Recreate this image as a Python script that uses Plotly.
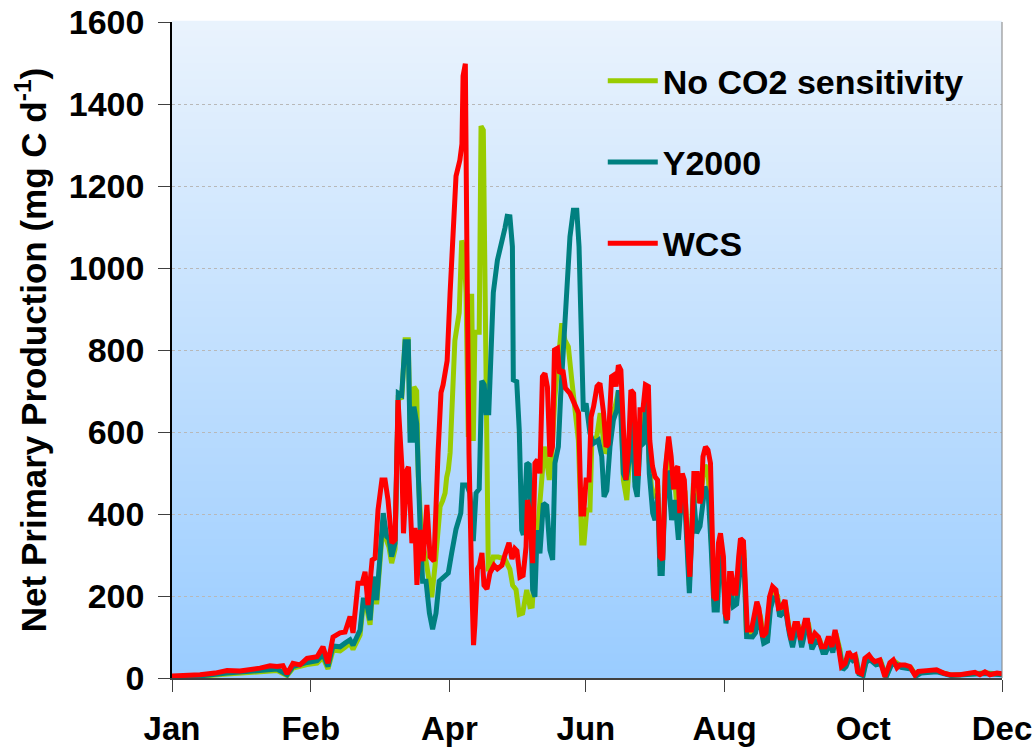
import plotly.graph_objects as go

# ---------------- data (day of year, NPP mg C d-1) ----------------
red_day = [0.0, 5.7, 12.3, 18.9, 24.2, 29.9, 34.3, 38.7, 43.1, 46.2, 48.8, 50.6, 53.2, 56.3, 59.4, 63.8, 66.4, 68.6,
           70.8, 73.9, 76.1, 78.3, 79.6, 81.8, 83.6, 84.9, 86.2, 88.0, 89.3, 90.6, 92.3, 93.7, 95.0, 96.7, 98.1, 99.4,
           101.1, 101.8, 103.3, 104.0, 105.5, 106.9, 107.7, 109.1, 110.4, 112.1, 113.5, 115.2, 117.0, 118.3, 119.2,
           121.0, 122.3, 123.6, 124.9, 126.6, 127.5, 128.0, 129.0, 129.7, 130.6, 131.7, 132.6, 133.2, 134.3, 135.2,
           136.3, 137.2, 138.5, 139.8, 141.6, 143.1, 145.1, 146.4, 148.2, 149.5, 150.8, 151.7, 153.0, 154.4, 155.7,
           156.3, 157.4, 158.6, 159.6, 160.7, 161.8, 162.9, 164.0, 165.1, 166.2, 167.3, 168.2, 169.5, 170.4, 171.9,
           173.0, 175.0, 177.2, 178.8, 179.9, 181.0, 182.1, 183.4, 184.3, 185.4, 186.9, 188.2, 189.8, 190.9, 191.8,
           193.3, 194.4, 195.3, 196.3, 197.4, 198.6, 199.6, 200.8, 201.8, 203.0, 204.3, 205.1, 205.8, 207.1, 208.2,
           209.5, 210.1, 211.3, 212.4, 213.5, 214.6, 215.8, 216.9, 218.4, 219.5, 220.6, 221.3, 222.4, 223.3, 224.4,
           225.3, 226.6, 227.7, 228.8, 229.5, 231.0, 232.1, 232.8, 233.5, 234.6, 235.7, 236.8, 237.4, 238.3, 239.4,
           240.3, 241.2, 242.5, 243.2, 244.3, 245.2, 246.0, 247.1, 248.0, 249.2, 250.0, 251.3, 252.4, 253.0, 254.8,
           255.9, 257.2, 258.1, 259.7, 261.2, 262.8, 264.1, 265.6, 266.7, 268.0, 269.6, 271.1, 272.4, 273.9, 275.1,
           276.4, 278.4, 279.5, 280.8, 282.7, 284.3, 285.6, 287.2, 288.7, 290.2, 291.6, 293.1, 294.4, 296.0, 297.5,
           299.0, 300.4, 301.5, 303.3, 304.7, 306.5, 307.8, 309.1, 311.3, 313.5, 315.7, 317.2, 318.8, 320.1, 322.3,
           324.5, 326.7, 328.2, 331.8, 336.2, 339.3, 342.1, 346.5, 350.9, 353.1, 355.3, 357.5, 359.7, 362.8, 365.0]
red_npp = [5, 6, 8, 12, 18, 17, 20, 24, 30, 28, 30, 10, 36, 32, 48, 52, 76, 36,
           100, 110, 112, 150, 110, 231, 231, 259, 178, 288, 292, 410, 483, 483, 434, 329, 337, 678,
           515, 353, 507, 515, 329, 366, 227, 361, 285, 422, 295, 285, 549, 696, 715,
           774, 940, 1107, 1224, 1263, 1302, 1468, 1498, 1038, 549, 256, 80, 130, 266, 275,
           305, 226, 217, 256, 275, 266, 275, 300, 330, 290, 315, 310, 246, 250, 320,
           434, 402, 280, 524, 532, 499, 735, 743, 710, 540, 564, 800, 804, 743, 751,
           707, 694, 662, 646, 400, 400, 483, 483, 637, 662, 711, 719, 646, 564, 570,
           735, 739, 711, 763, 751, 597, 483, 564, 702, 694, 499, 499, 654, 654, 715,
           711, 580, 516, 491, 483, 296, 288, 507, 589, 540, 460, 507, 516, 402, 499,
           483, 345, 247, 377, 499, 499, 426, 442, 540, 564, 556, 524, 393, 198, 190,
           329, 353, 296, 158, 142, 255, 255, 207, 207, 296, 340, 333, 198, 117, 117,
           150, 186, 170, 101, 110, 198, 223, 215, 170, 172, 190, 125, 93, 133, 133,
           93, 141, 141, 85, 109, 100, 76, 76, 101, 76, 117, 76, 28, 35, 64,
           52, 56, 15, 10, 48, 56, 46, 40, 44, 3, 37, 44, 25, 32, 32,
           28, 7, 16, 18, 20, 12, 8, 8, 12, 14, 8, 15, 8, 12, 10]

teal_day = [0.0, 12.3, 24.2, 38.7, 46.2, 50.6, 53.2, 59.4, 63.8, 66.4, 68.6, 70.8, 73.9, 76.1, 78.3, 79.6, 82.7, 84.1,
            85.3, 87.1, 88.5, 90.0, 91.5, 92.9, 94.4, 95.4, 96.6, 98.1, 99.5, 101.0, 102.5, 103.9, 104.7, 105.8, 106.4,
            107.6, 109.1, 110.2, 111.7, 113.2, 114.6, 116.1, 117.5, 119.3, 121.5, 123.0, 124.9, 127.0, 127.8, 129.6,
            131.0, 132.5, 133.7, 135.1, 136.2, 137.3, 138.1, 139.3, 140.6, 141.3, 143.1, 145.0, 146.4, 147.4, 148.6,
            149.7, 150.1, 151.6, 152.7, 153.8, 154.5, 156.0, 157.1, 158.6, 159.6, 160.6, 161.8, 163.3, 164.8, 166.2,
            167.4, 168.4, 169.9, 170.9, 172.4, 173.6, 175.0, 176.5, 178.0, 179.0, 180.2, 180.9, 182.1, 183.8, 185.3,
            187.5, 189.0, 190.0, 191.2, 192.6, 194.1, 195.6, 196.3, 197.4, 198.5, 199.7, 201.1, 202.2, 203.6, 204.6,
            205.8, 207.3, 208.8, 209.9, 211.4, 212.4, 213.6, 214.6, 215.6, 217.1, 218.1, 219.7, 221.2, 222.7, 224.2,
            225.6, 227.5, 229.3, 230.7, 232.2, 234.4, 235.9, 237.0, 238.4, 239.8, 241.0, 242.3, 243.6, 245.4, 246.8,
            248.3, 250.5, 251.5, 252.7, 255.3, 256.6, 257.6, 258.8, 260.2, 261.9, 263.2, 264.5, 266.3, 267.2, 269.8,
            271.6, 272.9, 274.3, 275.6, 276.9, 278.7, 280.0, 281.4, 283.1, 284.9, 286.2, 287.5, 289.3, 290.6, 292.0,
            293.7, 295.0, 296.4, 298.1, 299.5, 300.8, 302.1, 303.9, 305.2, 306.9, 309.6, 311.8, 314.0, 316.2, 317.9,
            320.6, 325.0, 327.2, 329.4, 336.4, 342.6, 351.4, 357.5, 365.0]
teal_npp = [3, 5, 12, 18, 22, 8, 28, 38, 42, 58, 28, 78, 76, 85, 93, 80, 117, 190,
            190, 141, 247, 190, 320, 402, 345, 340, 296, 329, 695, 690, 820, 820, 580, 580, 662,
            621, 369, 236, 236, 158, 119, 158, 236, 246, 256, 305, 363, 402, 471, 471,
            451, 334, 451, 461, 725, 715, 647, 647, 843, 940, 1019, 1058, 1097, 1126, 1125,
            1052, 727, 723, 605, 361, 349, 524, 520, 215, 198, 361, 304, 426, 420, 312,
            288, 524, 564, 686, 849, 971, 1076, 1141, 1141, 1052, 808, 650, 670, 597, 572,
            580, 540, 442, 457, 564, 629, 654, 702, 646, 499, 483, 532, 678, 467, 442,
            564, 572, 702, 499, 402, 385, 450, 255, 255, 499, 500, 385, 434, 337, 450,
            420, 207, 450, 353, 370, 467, 440, 330, 166, 166, 300, 260, 133, 230, 174,
            180, 300, 290, 101, 100, 110, 160, 130, 85, 90, 170, 195, 190, 150, 165,
            105, 75, 115, 115, 75, 120, 120, 70, 90, 85, 62, 62, 85, 62, 100,
            62, 20, 28, 52, 42, 45, 10, 6, 38, 45, 32, 35, 2, 30, 36,
            26, 22, 5, 12, 15, 6, 9, 11, 8]

green_day = [0.0, 12.3, 24.2, 38.7, 46.2, 50.6, 53.2, 59.4, 63.8, 66.4, 68.6, 70.8, 73.9, 76.1, 78.3, 79.6, 82.7, 84.1,
             85.3, 87.1, 88.5, 90.0, 91.5, 92.9, 94.4, 95.4, 96.6, 98.1, 99.5, 101.0, 102.5, 103.9, 104.7, 105.8, 106.4,
             107.6, 108.3, 109.8, 111.3, 112.7, 114.2, 115.7, 117.1, 117.9, 119.0, 120.1, 120.8, 121.5, 122.3, 123.4,
             124.4, 126.3, 127.4, 128.4, 129.3, 130.3, 131.0, 131.8, 132.5, 133.2, 135.1, 135.9, 136.9, 137.9, 139.1,
             140.3, 141.3, 143.5, 146.4, 148.6, 149.8, 151.3, 152.7, 154.2, 156.0, 157.4, 158.4, 159.6, 161.1, 162.6,
             163.7, 164.8, 165.9, 167.0, 168.4, 169.9, 171.4, 172.8, 174.3, 175.8, 177.3, 178.7, 180.2, 181.2, 182.4,
             183.8, 184.6, 186.8, 188.3, 190.5, 191.8, 193.4, 194.9, 196.3, 197.5, 198.5, 200.0, 201.5, 202.3, 203.6,
             204.6, 205.8, 207.1, 208.4, 209.8, 211.1, 212.4, 213.6, 214.6, 215.6, 217.0, 218.3, 219.7, 221.2, 222.7,
             224.2, 225.6, 227.5, 229.3, 230.7, 232.2, 233.4, 234.4, 235.8, 237.0, 238.4, 239.7, 241.0, 242.3, 243.6,
             245.4, 246.9, 248.2, 250.3, 251.5, 252.6, 255.3, 257.4, 258.8, 260.1, 261.9, 263.2, 264.5, 266.3, 267.2,
             269.8, 271.6, 272.9, 274.3, 275.6, 276.9, 278.7, 280.0, 281.4, 283.1, 284.9, 286.2, 287.5, 289.3, 290.6,
             292.0, 293.7, 295.0, 296.4, 298.1, 299.5, 300.8, 302.1, 303.9, 305.2, 306.9, 309.6, 311.8, 314.0, 316.2,
             317.9, 320.6, 325.0, 327.2, 329.4, 336.4, 342.6, 351.4, 357.5, 365.0]
green_npp = [2, 4, 10, 15, 18, 6, 24, 33, 36, 50, 22, 68, 66, 75, 85, 70, 105, 180,
             180, 130, 235, 180, 305, 385, 335, 320, 280, 315, 690, 680, 825, 825, 600, 620, 710,
             700, 491, 337, 300, 256, 197, 275, 373, 418, 432, 451, 490, 507, 549, 715,
             823, 891, 1067, 1048, 940, 588, 931, 931, 578, 843, 843, 1346, 1336, 843, 266,
             266, 295, 295, 290, 265, 226, 215, 155, 158, 215, 174, 175, 280, 402, 483,
             564, 532, 483, 540, 686, 783, 865, 824, 808, 727, 646, 580, 329, 329, 410,
             410, 572, 589, 646, 548, 560, 646, 662, 700, 660, 483, 434, 560, 690, 480,
             470, 600, 610, 705, 530, 450, 440, 470, 275, 272, 505, 575, 460, 475, 370,
             475, 455, 225, 475, 430, 440, 480, 520, 500, 360, 180, 180, 320, 280, 148,
             245, 190, 195, 320, 310, 110, 108, 175, 150, 95, 100, 185, 210, 200, 160,
             178, 115, 85, 125, 125, 85, 130, 130, 78, 100, 92, 70, 70, 93, 70,
             108, 70, 24, 32, 58, 48, 50, 12, 8, 43, 50, 36, 40, 2, 33,
             40, 29, 25, 6, 14, 17, 7, 10, 13, 9]

series_names = ["No CO2 sensitivity", "Y2000", "WCS"]
series_colors = ["#99CC00", "#008080", "#FF0000"]

tick_days = [0, 61, 122, 182, 243, 304, 365]
tick_labels = ["Jan", "Feb", "Apr", "Jun", "Aug", "Oct", "Dec"]
y_ticks = [0, 200, 400, 600, 800, 1000, 1200, 1400, 1600]

# ---------------- figure ----------------
fig = go.Figure()
for name, color, xs, ys, grp in [
    (series_names[0], series_colors[0], green_day, green_npp, "g1"),
    (series_names[1], series_colors[1], teal_day, teal_npp, "g2"),
    (series_names[2], series_colors[2], red_day, red_npp, "g3"),
]:
    fig.add_trace(go.Scatter(x=xs, y=ys, mode="lines", name=name, legendgroup=grp,
                             line=dict(color=color, width=5)))

# gradient background
shapes = []
N = 80
top = (234, 243, 253)
bot = (153, 204, 255)
for i in range(N):
    t = (i + 0.5) / N  # 0 bottom -> 1 top
    c = tuple(round(bot[k] + (top[k] - bot[k]) * t) for k in range(3))
    shapes.append(dict(type="rect", xref="x domain", yref="y domain",
                       x0=0, x1=1, y0=i / N, y1=(i + 1) / N + 0.002,
                       fillcolor="rgb(%d,%d,%d)" % c, line=dict(width=0), layer="below"))
shapes.append(dict(type="line", xref="x domain", yref="y domain", x0=1, x1=1, y0=0, y1=1,
                   line=dict(color="#808080", width=1), layer="above"))

font_main = "Liberation Sans, Arial, sans-serif"

fig.update_layout(
    width=1034, height=748,
    margin=dict(l=172, r=32, t=22, b=70),
    paper_bgcolor="white",
    plot_bgcolor="rgba(0,0,0,0)",
    shapes=shapes,
    showlegend=True,
    legend=dict(x=0.519, y=0.954, xanchor="left", yanchor="top",
                bgcolor="rgba(0,0,0,0)", borderwidth=0,
                font=dict(family=font_main, size=34, color="black", weight="bold"),
                tracegroupgap=34, itemwidth=50, traceorder="grouped"),
    xaxis=dict(range=[0, 365], tickmode="array", tickvals=tick_days, ticktext=tick_labels,
               automargin=False, ticklabeloverflow="allow",
               showgrid=False, zeroline=False, showline=True, linecolor="#404040", linewidth=1.5,
               ticks="outside", ticklen=12, tickcolor="#404040", tickwidth=1,
               ticklabelstandoff=9,
               tickfont=dict(family=font_main, size=33, color="black", weight="bold")),
    yaxis=dict(range=[0, 1600], tickmode="array", tickvals=y_ticks, automargin=False,
               ticklabeloverflow="allow",
               showgrid=True, gridcolor="#B8B8B8", griddash="dot", gridwidth=1,
               zeroline=False, showline=True, linecolor="black", linewidth=1.5,
               ticks="outside", ticklen=12, tickcolor="#404040", tickwidth=1,
               ticklabelstandoff=7,
               tickfont=dict(family=font_main, size=34, color="black", weight="bold"),
               title=dict(text="Net Primary Production (mg C d<sup>-1</sup>)", standoff=12,
                          font=dict(family=font_main, size=35, color="black", weight="bold"))),
)

# remove the browser's default 8px page margin so the 1034x748 figure fills the window exactly
fig.write_html("out.html",
               config={"displayModeBar": False},
               post_script="document.body.style.margin='0';"
                           "document.documentElement.style.overflow='hidden';"
                           "document.body.style.overflow='hidden';")
